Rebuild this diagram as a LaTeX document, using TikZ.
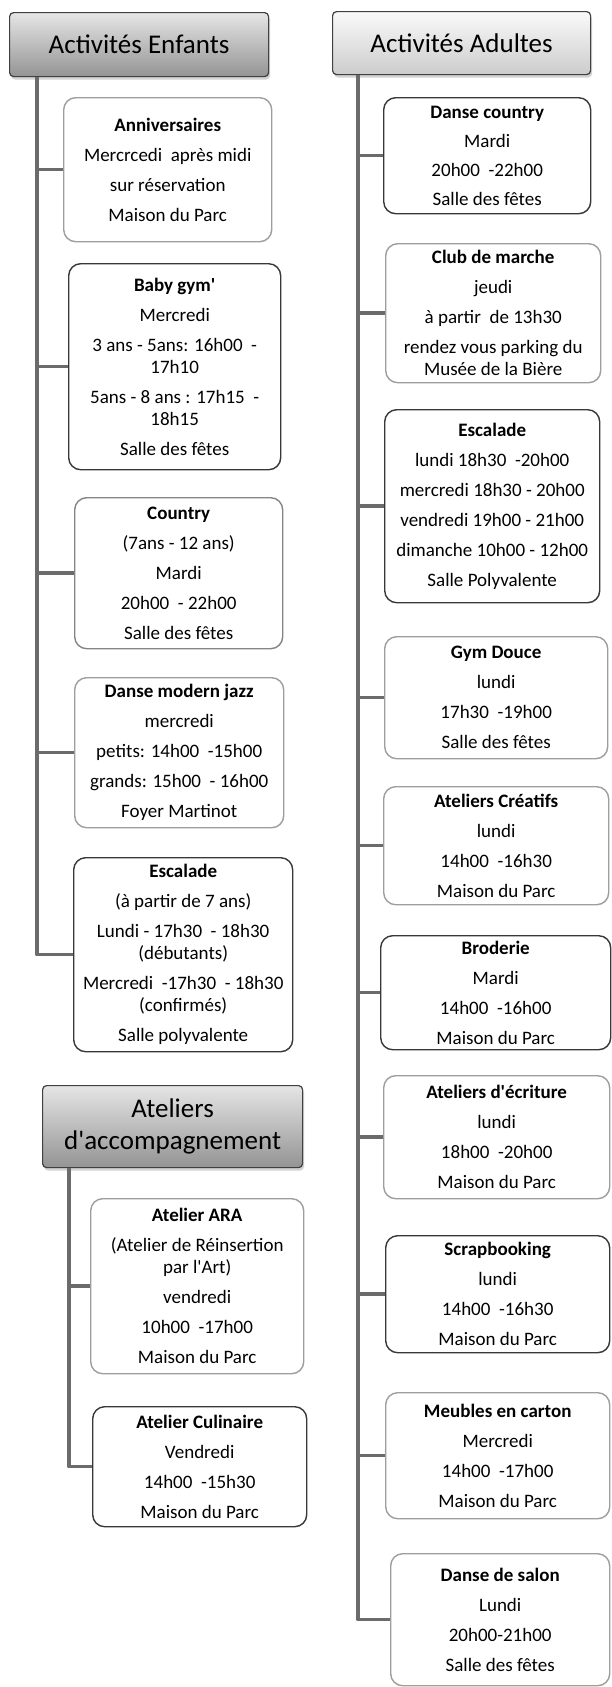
\documentclass[tikz,border=0pt]{standalone}
\usepackage{fontspec}
\setmainfont{Carlito}
\usetikzlibrary{shadows}

\begin{document}
\begin{tikzpicture}[x=1pt,y=-1pt,
  every node/.style={font=\fontsize{19}{22}\selectfont, align=center, inner sep=0pt},
  card/.style={rectangle, rounded corners=12pt, line width=1.4pt, fill=white, anchor=north west},
  darkcard/.style={card, draw=black!78},
  lightcard/.style={card, draw=black!38},
  header/.style={rectangle, rounded corners=4pt, draw=black!75, line width=1.2pt, anchor=north west,
    font=\fontsize{27}{32}\selectfont, shading=axis,
    drop shadow={opacity=0.35, shadow xshift=1.5pt, shadow yshift=-3pt}},
  trunk/.style={draw=black!58, line width=3.5pt, line join=round}]

          % --- page frame (reference size in px) ---
          \useasboundingbox[fill=white] (0,0) rectangle (611,1687);

          % --- Headers ---
          \node[header, top color=black!10, bottom color=black!42, minimum width=259pt, minimum height=64pt] (hdrE) at (9,12) {Activités Enfants};
          \node[header, top color=black!2, bottom color=black!20, minimum width=258pt, minimum height=63pt] (hdrA) at (332,11) {Activités Adultes};
          \node[header, top color=black!10, bottom color=black!42, minimum width=260pt, minimum height=82pt] (hdrT) at (42,1085) {Ateliers\\d\textquotesingle accompagnement};

          % --- Activites enfants ---
          \node[lightcard, minimum width=208pt, minimum height=144pt] (annE) at (63,97)
            {\textbf{Anniversaires}\\[8pt]Mercrcedi\ \ après midi\\[8pt]sur réservation\\[8pt]Maison du Parc};
          \node[darkcard, minimum width=212pt, minimum height=206pt] (babyE) at (68,263)
            {\textbf{Baby gym\textquotesingle}\\[8pt]Mercredi\\[8pt]3 ans - 5ans: 16h00\ \ -\\17h10\\[8pt]5ans - 8 ans : 17h15\ \ -\\18h15\\[8pt]Salle des fêtes};
          \node[lightcard, draw=black!48, minimum width=208pt, minimum height=151pt] (countryE) at (74,497)
            {\textbf{Country}\\[8pt](7ans - 12 ans)\\[8pt]Mardi\\[8pt]20h00\ \ - 22h00\\[8pt]Salle des fêtes};
          \node[lightcard, minimum width=209pt, minimum height=150pt] (jazzE) at (74,677)
            {\textbf{Danse modern jazz}\\[8pt]mercredi\\[8pt]petits: 14h00\ \ -15h00\\[8pt]grands: 15h00\ \ - 16h00\\[8pt]Foyer Martinot};
          \node[darkcard, minimum width=219pt, minimum height=194pt] (escE) at (73,857)
            {\textbf{Escalade}\\[8pt](à partir de 7 ans)\\[8pt]Lundi - 17h30\ \ - 18h30\\(débutants)\\[8pt]Mercredi\ \ -17h30\ \ - 18h30\\(confirmés)\\[8pt]Salle polyvalente};

          % --- Ateliers d'accompagnement ---
          \node[lightcard, minimum width=213pt, minimum height=175pt] (araT) at (90,1198)
            {\textbf{Atelier ARA}\\[8pt](Atelier de Réinsertion\\par l\textquotesingle Art)\\[8pt]vendredi\\[8pt]10h00\ \ -17h00\\[8pt]Maison du Parc};
          \node[darkcard, minimum width=214pt, minimum height=120pt] (culT) at (92,1406)
            {\textbf{Atelier Culinaire}\\[8pt]Vendredi\\[8pt]14h00\ \ -15h30\\[8pt]Maison du Parc};

          % --- Activites adultes ---
          \node[darkcard, minimum width=207pt, minimum height=116pt] (countryA) at (383,97)
            {\textbf{Danse country}\\[7pt]Mardi\\[7pt]20h00\ \ -22h00\\[7pt]Salle des fêtes};
          \node[lightcard, minimum width=215pt, minimum height=139pt] (marcheA) at (385,243)
            {\textbf{Club de marche}\\[8pt]jeudi\\[8pt]à partir\ \ de 13h30\\[8pt]rendez vous parking du\\Musée de la Bière};
          \node[darkcard, minimum width=215pt, minimum height=193pt] (escA) at (384,409)
            {\textbf{Escalade}\\[8pt]lundi 18h30\ \ -20h00\\[8pt]mercredi 18h30 - 20h00\\[8pt]vendredi 19h00 - 21h00\\[8pt]dimanche 10h00 - 12h00\\[8pt]Salle Polyvalente};
          \node[lightcard, minimum width=223pt, minimum height=122pt] (gymA) at (384,636)
            {\textbf{Gym Douce}\\[8pt]lundi\\[8pt]17h30\ \ -19h00\\[8pt]Salle des fêtes};
          \node[lightcard, minimum width=225pt, minimum height=118pt] (creatA) at (383,786)
            {\textbf{Ateliers Créatifs}\\[8pt]lundi\\[8pt]14h00\ \ -16h30\\[8pt]Maison du Parc};
          \node[darkcard, minimum width=230pt, minimum height=114pt] (brodA) at (380,935)
            {\textbf{Broderie}\\[8pt]Mardi\\[8pt]14h00\ \ -16h00\\[8pt]Maison du Parc};
          \node[lightcard, minimum width=226pt, minimum height=123pt] (ecritA) at (383,1075)
            {\textbf{Ateliers d\textquotesingle écriture}\\[8pt]lundi\\[8pt]18h00\ \ -20h00\\[8pt]Maison du Parc};
          \node[darkcard, minimum width=224pt, minimum height=117pt] (scrapA) at (385,1235)
            {\textbf{Scrapbooking}\\[8pt]lundi\\[8pt]14h00\ \ -16h30\\[8pt]Maison du Parc};
          \node[lightcard, minimum width=224pt, minimum height=126pt] (meublesA) at (385,1392)
            {\textbf{Meubles en carton}\\[8pt]Mercredi\\[8pt]14h00\ \ -17h00\\[8pt]Maison du Parc};
          \node[lightcard, minimum width=219pt, minimum height=132pt] (salonA) at (390,1553)
            {\textbf{Danse de salon}\\[8pt]Lundi\\[8pt]20h00-21h00\\[8pt]Salle des fêtes};

          % --- Trunks and branches ---
          \coordinate (tE) at ([xshift=28pt]hdrE.south west);
          \coordinate (tA) at ([xshift=26pt]hdrA.south west);
          \coordinate (tT) at ([xshift=27pt]hdrT.south west);

          \draw[trunk] (tE) |- (escE.west);
          \foreach \n in {annE,babyE,countryE,jazzE}{
            \draw[trunk] (\n.west -| tE) -- (\n.west);
          }

          \draw[trunk] (tT) |- (culT.west);
          \draw[trunk] (araT.west -| tT) -- (araT.west);

          \draw[trunk] (tA) |- (salonA.west);
          \foreach \n in {countryA,marcheA,escA,gymA,creatA,brodA,ecritA,scrapA,meublesA}{
            \draw[trunk] (\n.west -| tA) -- (\n.west);
          }

        \end{tikzpicture}
\end{document}
